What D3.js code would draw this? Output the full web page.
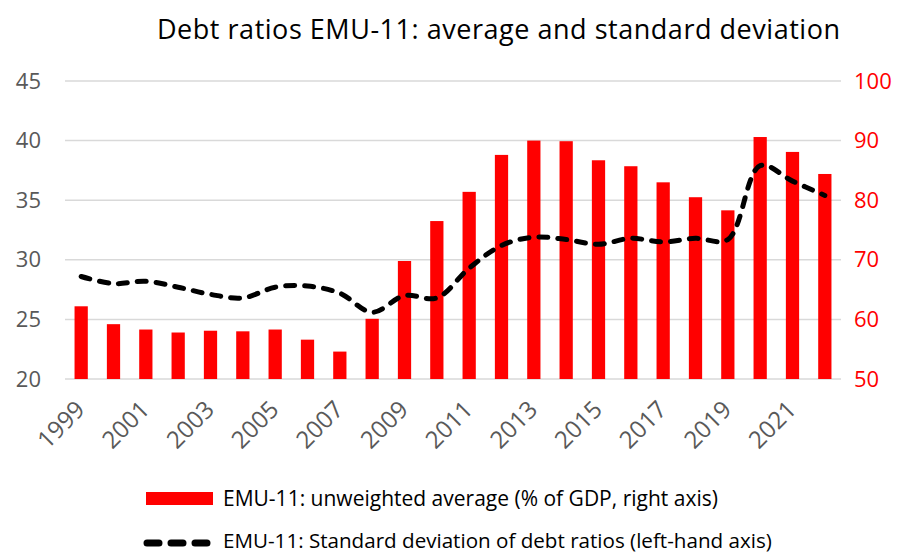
<!DOCTYPE html>
<html>
<head>
    <meta charset="utf-8">
    <title>Debt ratios EMU-11</title>
    <script src="https://d3js.org/d3.v7.min.js"></script>
    <style>
        body { margin: 0; background: #fff; }
        text { font-family: "Open Sans", "Noto Sans", sans-serif; }
    </style>
</head>
<body>
    <script>
        const years = d3.range(1999, 2023);
        // unweighted average debt ratio, % of GDP (right axis)
        const avgDebt = [62.2, 59.2, 58.3, 57.8, 58.1, 58.0, 58.3, 56.6, 54.6, 60.1, 69.8, 76.5,
                         81.4, 87.6, 90.0, 89.9, 86.7, 85.7, 83.0, 80.5, 78.3, 90.6, 88.1, 84.4];
        // standard deviation of debt ratios (left axis)
        const stdDev = [28.6, 28.0, 28.2, 27.7, 27.1, 26.8, 27.7, 27.8, 27.2, 25.6, 27.0, 26.8,
                        29.3, 31.2, 31.9, 31.7, 31.3, 31.8, 31.5, 31.8, 31.7, 37.9, 36.6, 35.4];
        const leftTicks = [20, 25, 30, 35, 40, 45];
        const rightTicks = [50, 60, 70, 80, 90, 100];

        const width = 909, height = 554;
        const margin = { top: 81, right: 68, bottom: 175, left: 65 };
        const red = '#ff0000';
        const grey = '#595959';

        const svg = d3.select('body').append('svg')
            .attr('width', width)
            .attr('height', height);

        const x = d3.scaleBand()
            .domain(years)
            .range([margin.left, width - margin.right])
            .paddingInner(0.59)
            .paddingOuter(0.295);

        const yLeft = d3.scaleLinear()
            .domain([20, 45])
            .range([height - margin.bottom, margin.top]);

        const yRight = d3.scaleLinear()
            .domain([50, 100])
            .range([height - margin.bottom, margin.top]);

        // gridlines
        svg.append('g')
            .selectAll('line')
            .data(leftTicks)
            .enter().append('line')
            .attr('x1', margin.left)
            .attr('x2', width - margin.right)
            .attr('y1', d => yLeft(d))
            .attr('y2', d => yLeft(d))
            .style('stroke', '#d9d9d9')
            .style('stroke-width', 1.5);

        // left axis
        const leftAxis = svg.append('g')
            .attr('transform', `translate(${margin.left - 24},0)`)
            .call(d3.axisLeft(yLeft).tickValues(leftTicks).tickSize(0).tickPadding(0));
        leftAxis.select('.domain').remove();
        leftAxis.selectAll('text')
            .attr('font-size', 22)
            .style('fill', grey)
            .style('font-family', '"Open Sans", sans-serif');

        // right axis
        const rightAxis = svg.append('g')
            .attr('transform', `translate(${width - margin.right + 13},0)`)
            .call(d3.axisRight(yRight).tickValues(rightTicks).tickSize(0).tickPadding(0));
        rightAxis.select('.domain').remove();
        rightAxis.selectAll('text')
            .attr('font-size', 22)
            .style('fill', red)
            .style('font-family', '"Open Sans", sans-serif');

        // bottom axis labels, every other year
        const bottomAxis = svg.append('g')
            .attr('transform', `translate(0,${height - margin.bottom})`)
            .call(d3.axisBottom(x).tickValues(years.filter((d, i) => i % 2 === 0)).tickSize(0));
        bottomAxis.select('.domain').remove();
        bottomAxis.selectAll('text')
            .attr('font-size', 24)
            .style('fill', grey)
            .style('font-family', '"Open Sans", sans-serif')
            .style('text-anchor', 'end')
            .attr('dy', 0)
            .attr('transform', 'translate(3,30) rotate(-45)');

        // bars
        svg.append('g')
            .selectAll('rect')
            .data(years)
            .enter().append('rect')
            .attr('x', d => x(d))
            .attr('width', x.bandwidth())
            .attr('y', (d, i) => yRight(avgDebt[i]))
            .attr('height', (d, i) => yRight(50) - yRight(avgDebt[i]))
            .style('fill', red);

        // std dev line
        const line = d3.line()
            .x((d, i) => x(years[i]) + x.bandwidth() / 2)
            .y(d => yLeft(d))
            .curve(d3.curveCatmullRom.alpha(0.5));

        svg.append('path')
            .datum(stdDev)
            .attr('d', line)
            .style('fill', 'none')
            .style('stroke', '#000')
            .style('stroke-width', 5)
            .style('stroke-linecap', 'round')
            .style('stroke-dasharray', '9,10');

        // title
        svg.append('text')
            .attr('x', 840)
            .attr('y', 39)
            .attr('text-anchor', 'end')
            .attr('font-size', 27)
            .attr('textLength', 683)
            .attr('lengthAdjust', 'spacing')
            .style('fill', '#000')
            .text('Debt ratios EMU-11: average and standard deviation');

        // legend
        const legend = svg.append('g');
        legend.append('rect')
            .attr('x', 146)
            .attr('y', 492)
            .attr('width', 67)
            .attr('height', 13)
            .style('fill', red);
        legend.append('text')
            .attr('x', 223)
            .attr('y', 506)
            .attr('font-size', 21)
            .style('fill', '#000')
            .text('EMU-11: unweighted average (% of GDP, right axis)');
        legend.append('line')
            .attr('x1', 147)
            .attr('x2', 209)
            .attr('y1', 543)
            .attr('y2', 543)
            .style('stroke', '#000')
            .style('stroke-width', 7)
            .style('stroke-linecap', 'round')
            .style('stroke-dasharray', '12,12');
        legend.append('text')
            .attr('x', 223)
            .attr('y', 548)
            .attr('font-size', 20.6)
            .style('fill', '#000')
            .text('EMU-11: Standard deviation of debt ratios (left-hand axis)');
    </script>
</body>
</html>
